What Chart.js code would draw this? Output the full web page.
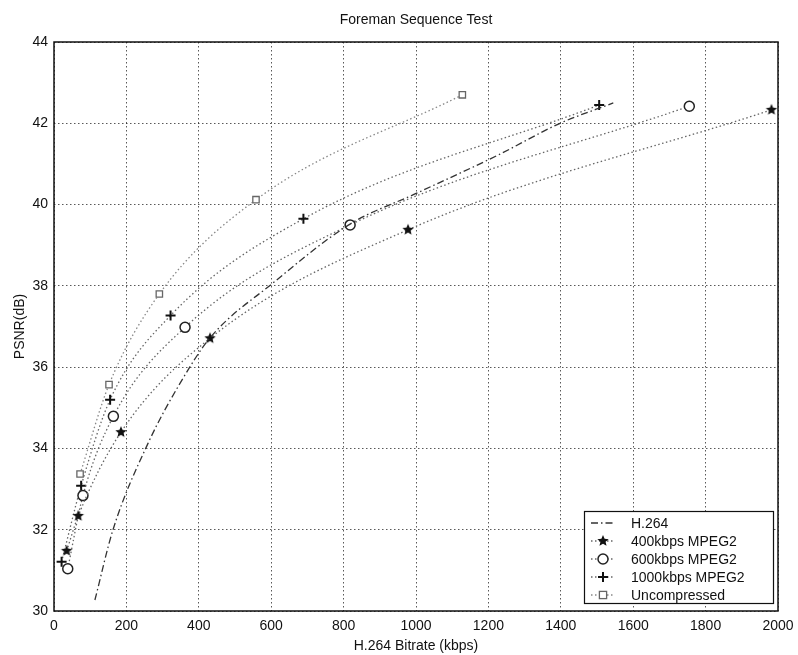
<!DOCTYPE html>
<html>
<head>
<meta charset="utf-8">
<script src="https://cdn.jsdelivr.net/npm/chart.js@4.4.1/dist/chart.umd.min.js"></script>
<style>
    html, body { margin: 0; padding: 0; background: #fff; }
    #wrap { width: 798px; height: 655px; }
</style>
</head>
<body>
<div id="wrap"><canvas id="psnrChart" width="798" height="655"></canvas></div>
<script>
// Data (H.264 bitrate in kbps, PSNR in dB)
const h264Rate = [113, 163, 260, 348, 431, 605, 818, 1002, 1227, 1398, 1545];
const h264Psnr = [30.27, 32.0, 34.13, 35.6, 36.72, 38.07, 39.52, 40.28, 41.22, 42.0, 42.5];

const mpeg400Rate = [35, 67, 185, 431, 978, 1982];
const mpeg400Psnr = [31.48, 32.34, 34.4, 36.71, 39.38, 42.33];

const mpeg600Rate = [38, 80, 164, 362, 818, 1755];
const mpeg600Psnr = [31.04, 32.84, 34.79, 36.98, 39.5, 42.42];

const mpeg1000Rate = [21, 75, 155, 322, 689, 1506];
const mpeg1000Psnr = [31.21, 33.08, 35.2, 37.27, 39.65, 42.45];

const uncompRate = [72, 152, 291, 558, 1128];
const uncompPsnr = [33.37, 35.57, 37.8, 40.12, 42.7];

const seriesNames = ['H.264', '400kbps MPEG2', '600kbps MPEG2', '1000kbps MPEG2', 'Uncompressed'];

const FONT = 'Liberation Sans, Arial, Helvetica, sans-serif';
const TEXT = '#111';

// Build {x, y} pairs
function pairs(xs, ys) {
    return xs.map((x, i) => ({ x: x, y: ys[i] }));
}

// Filled five-point star used as the 400kbps marker
function makeStar(r) {
    const c = document.createElement('canvas');
    const s = Math.ceil(r * 2 + 2);
    c.width = s;
    c.height = s;
    const g = c.getContext('2d');
    g.translate(s / 2, s / 2);
    g.beginPath();
    for (let i = 0; i < 10; i++) {
        const rr = i % 2 ? r * 0.45 : r;
        const a = -Math.PI / 2 + i * Math.PI / 5;
        g.lineTo(rr * Math.cos(a), rr * Math.sin(a));
    }
    g.closePath();
    g.fillStyle = '#111';
    g.fill();
    return c;
}
const starImg = makeStar(6);

const dotted = [1.5, 2.5];
const dashDot = [7, 3, 1.5, 3];

const datasets = [
    {
        label: seriesNames[0],
        data: pairs(h264Rate, h264Psnr),
        borderColor: '#333',
        borderWidth: 1.3,
        borderDash: dashDot,
        pointRadius: 0,
        cubicInterpolationMode: 'monotone'
    },
    {
        label: seriesNames[1],
        data: pairs(mpeg400Rate, mpeg400Psnr),
        borderColor: '#666',
        borderWidth: 1.3,
        borderDash: dotted,
        pointStyle: starImg,
        pointRadius: 6,
        cubicInterpolationMode: 'monotone'
    },
    {
        label: seriesNames[2],
        data: pairs(mpeg600Rate, mpeg600Psnr),
        borderColor: '#666',
        borderWidth: 1.3,
        borderDash: dotted,
        pointStyle: 'circle',
        pointRadius: 5,
        pointBackgroundColor: '#fff',
        pointBorderColor: '#222',
        pointBorderWidth: 1.5,
        cubicInterpolationMode: 'monotone'
    },
    {
        label: seriesNames[3],
        data: pairs(mpeg1000Rate, mpeg1000Psnr),
        borderColor: '#666',
        borderWidth: 1.3,
        borderDash: dotted,
        pointStyle: 'cross',
        pointRadius: 5,
        pointBorderColor: '#111',
        pointBorderWidth: 2,
        cubicInterpolationMode: 'monotone'
    },
    {
        label: seriesNames[4],
        data: pairs(uncompRate, uncompPsnr),
        borderColor: '#888',
        borderWidth: 1.3,
        borderDash: dotted,
        pointStyle: 'rect',
        pointRadius: 4.5,
        pointBackgroundColor: '#fff',
        pointBorderColor: '#666',
        pointBorderWidth: 1.3,
        cubicInterpolationMode: 'monotone'
    }
];

// Legend marker for the box in the lower right
function drawMarker(ctx, ds, x, y) {
    ctx.save();
    ctx.setLineDash([]);
    if (ds.pointStyle === starImg) {
        ctx.drawImage(starImg, x - starImg.width / 2, y - starImg.height / 2);
    } else if (ds.pointStyle === 'circle') {
        ctx.beginPath();
        ctx.arc(x, y, ds.pointRadius, 0, Math.PI * 2);
        ctx.fillStyle = '#fff';
        ctx.fill();
        ctx.lineWidth = ds.pointBorderWidth;
        ctx.strokeStyle = ds.pointBorderColor;
        ctx.stroke();
    } else if (ds.pointStyle === 'cross') {
        const r = ds.pointRadius;
        ctx.beginPath();
        ctx.moveTo(x - r, y); ctx.lineTo(x + r, y);
        ctx.moveTo(x, y - r); ctx.lineTo(x, y + r);
        ctx.lineWidth = ds.pointBorderWidth;
        ctx.strokeStyle = ds.pointBorderColor;
        ctx.stroke();
    } else if (ds.pointStyle === 'rect') {
        const r = ds.pointRadius * 0.8;
        ctx.fillStyle = '#fff';
        ctx.fillRect(x - r, y - r, 2 * r, 2 * r);
        ctx.lineWidth = ds.pointBorderWidth;
        ctx.strokeStyle = ds.pointBorderColor;
        ctx.strokeRect(x - r, y - r, 2 * r, 2 * r);
    }
    ctx.restore();
}

// Frame, title and legend drawn on top
const decorPlugin = {
    id: 'decor',
    afterDraw(chart) {
        const ctx = chart.ctx;
        const a = chart.chartArea;
        ctx.save();

        // full box round the plot
        ctx.strokeStyle = '#111';
        ctx.lineWidth = 1.5;
        ctx.strokeRect(a.left, a.top, a.right - a.left, a.bottom - a.top);

        // title
        ctx.fillStyle = TEXT;
        ctx.font = '14px ' + FONT;
        ctx.textAlign = 'center';
        ctx.textBaseline = 'middle';
        ctx.fillText('Foreman Sequence Test', (a.left + a.right) / 2, 20);

        // legend
        const bx = 584, by = 511, bw = 189, bh = 92;
        ctx.fillStyle = '#fff';
        ctx.fillRect(bx, by, bw, bh);
        ctx.strokeStyle = '#111';
        ctx.lineWidth = 1.2;
        ctx.strokeRect(bx + 0.5, by + 0.5, bw, bh);

        chart.data.datasets.forEach((ds, i) => {
            const y = by + 12 + i * 18;
            ctx.save();
            ctx.strokeStyle = ds.borderColor;
            ctx.lineWidth = ds.borderWidth;
            ctx.setLineDash(ds.borderDash || []);
            ctx.beginPath();
            ctx.moveTo(591, y);
            ctx.lineTo(615, y);
            ctx.stroke();
            ctx.restore();
            drawMarker(ctx, ds, 603, y);
            ctx.fillStyle = TEXT;
            ctx.font = '14px ' + FONT;
            ctx.textAlign = 'left';
            ctx.textBaseline = 'middle';
            ctx.fillText(ds.label, 631, y + 1);
        });

        ctx.restore();
    }
};

const chart = new Chart(document.getElementById('psnrChart').getContext('2d'), {
    type: 'line',
    data: { datasets: datasets },
    plugins: [decorPlugin],
    options: {
        responsive: false,
        animation: false,
        devicePixelRatio: 1,
        layout: { padding: { left: 10, right: 20, top: 42, bottom: 0 } },
        plugins: {
            legend: { display: false },
            tooltip: { enabled: false }
        },
        scales: {
            x: {
                type: 'linear',
                min: 0,
                max: 2000,
                ticks: {
                    stepSize: 200,
                    padding: 7,
                    color: TEXT,
                    font: { family: FONT, size: 14 },
                    maxRotation: 0,
                    callback: (v) => String(v)
                },
                grid: { color: 'rgba(0,0,0,0.65)', lineWidth: 1, drawTicks: false },
                border: { display: false, dash: [1.5, 2.5] },
                title: {
                    display: true,
                    text: 'H.264 Bitrate (kbps)',
                    color: TEXT,
                    font: { family: FONT, size: 14 },
                    padding: { top: 0, bottom: 0 }
                },
                afterFit: (scale) => {
                    scale.height = 44;
                    scale.paddingLeft = 0;
                    scale.paddingRight = 0;
                }
            },
            y: {
                min: 30,
                max: 44,
                ticks: {
                    stepSize: 2,
                    padding: 6,
                    color: TEXT,
                    font: { family: FONT, size: 14 }
                },
                grid: { color: 'rgba(0,0,0,0.65)', lineWidth: 1, drawTicks: false },
                border: { display: false, dash: [1.5, 2.5] },
                title: {
                    display: true,
                    text: 'PSNR(dB)',
                    color: TEXT,
                    font: { family: FONT, size: 14 },
                    padding: { top: 2, bottom: 0 }
                },
                afterFit: (scale) => {
                    scale.width = 44;
                    scale.paddingTop = 0;
                    scale.paddingBottom = 0;
                }
            }
        }
    }
});
</script>
</body>
</html>
